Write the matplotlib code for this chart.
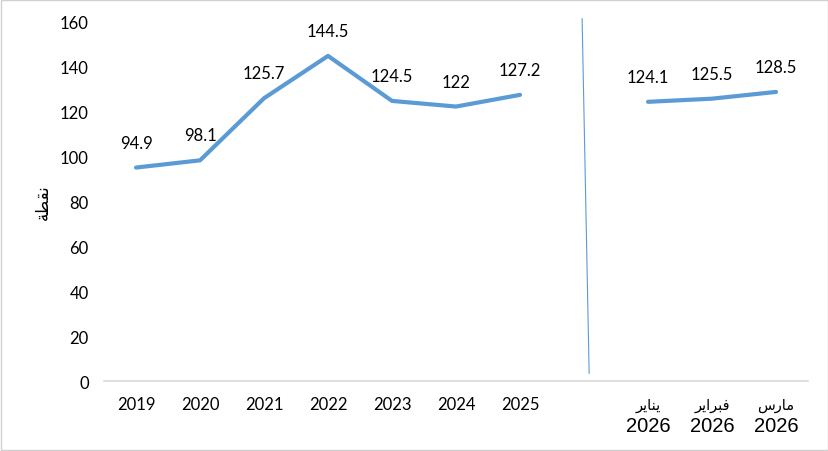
import matplotlib.pyplot as plt
import matplotlib.transforms as mtransforms
from matplotlib.patches import Rectangle
import numpy as np

# values
years = ["2019", "2020", "2021", "2022", "2023", "2024", "2025"]
year_values = [94.9, 98.1, 125.7, 144.5, 124.5, 122, 127.2]
months = ["يناير", "فبراير", "مارس"]
month_year = "2026"
month_values = [124.1, 125.5, 128.5]
y_label = "نقطة"
y_ticks = [0, 20, 40, 60, 80, 100, 120, 140, 160]

BLUE = "#5B9BD5"

# --- tiny Arabic shaper (matplotlib has no shaping) ---
FORMS = {
    "ا": ("\uFE8D", "\uFE8E", None, None),
    "ب": ("\uFE8F", "\uFE90", "\uFE91", "\uFE92"),
    "ة": ("\uFE93", "\uFE94", None, None),
    "ر": ("\uFEAD", "\uFEAE", None, None),
    "س": ("\uFEB1", "\uFEB2", "\uFEB3", "\uFEB4"),
    "ط": ("\uFEC1", "\uFEC2", "\uFEC3", "\uFEC4"),
    "ف": ("\uFED1", "\uFED2", "\uFED3", "\uFED4"),
    "ق": ("\uFED5", "\uFED6", "\uFED7", "\uFED8"),
    "م": ("\uFEE1", "\uFEE2", "\uFEE3", "\uFEE4"),
    "ن": ("\uFEE5", "\uFEE6", "\uFEE7", "\uFEE8"),
    "ي": ("\uFEF1", "\uFEF2", "\uFEF3", "\uFEF4"),
}

def shape(word):
    out = []
    for i, ch in enumerate(word):
        f = FORMS[ch]
        prev_joins = i > 0 and FORMS[word[i - 1]][2] is not None
        next_joins = i < len(word) - 1 and f[2] is not None
        if prev_joins and next_joins:
            out.append(f[3])
        elif prev_joins:
            out.append(f[1])
        elif next_joins:
            out.append(f[2])
        else:
            out.append(f[0])
    return "".join(reversed(out))

# 11 category slots: 7 years, one empty slot, 3 months
n_years = len(years)
gap_x = n_years
x_years = np.arange(n_years)
x_months = np.arange(len(months)) + n_years + 1

fig = plt.figure(figsize=(8.29, 4.52), dpi=100)
ax = fig.add_axes([0.1255, 0.1545, 0.8492, 0.7968])

ax.plot(x_years, year_values, color=BLUE, lw=3.0, solid_joinstyle="round", solid_capstyle="round")
ax.plot(x_months, month_values, color=BLUE, lw=3.0, solid_joinstyle="round", solid_capstyle="round")

num_font = "Lato"
for x, v in list(zip(x_years, year_values)) + list(zip(x_months, month_values)):
    ax.annotate(f"{v:g}", (x, v), xytext=(0, 18), textcoords="offset points",
                ha="center", va="center", fontsize=12, family=num_font, color="#000000")

ax.set_xlim(-0.5, 10.5)
ax.set_ylim(0, 160)
ax.set_yticks(y_ticks)
ax.set_yticklabels([str(t) for t in y_ticks], family=num_font, fontsize=12)
ax.set_xticks(x_years)
ax.set_xticklabels(years, family=num_font, fontsize=12)
ax.tick_params(axis="both", length=0)
ax.tick_params(axis="y", pad=11)
ax.tick_params(axis="x", pad=11)

for s in ["top", "right", "left"]:
    ax.spines[s].set_visible(False)
ax.spines["bottom"].set_color("#D9D9D9")
ax.spines["bottom"].set_linewidth(1.2)

# month labels: Arabic month on top, larger year below
trans = mtransforms.blended_transform_factory(ax.transData, ax.transAxes)
for x, m in zip(x_months, months):
    ax.text(x, -0.066, shape(m), transform=trans, ha="center", va="center",
            fontsize=10.5, family="DejaVu Sans")
    ax.text(x, -0.124, month_year, transform=trans, ha="center", va="center",
            fontsize=14.5, family="Liberation Sans")

ax.set_ylabel(shape(y_label), family="DejaVu Sans", fontsize=12, labelpad=6)

# thin separator between annual and monthly values
ax.plot([gap_x - 0.03, gap_x + 0.08], [161, 3.5], color=BLUE, lw=0.8, clip_on=False)

# chart-area border
fig.add_artist(Rectangle((0.001, 0.002), 0.998, 0.996, transform=fig.transFigure,
                         fill=False, edgecolor="#D0D0D0", lw=1.0))

fig.savefig("out.png", dpi=100)
